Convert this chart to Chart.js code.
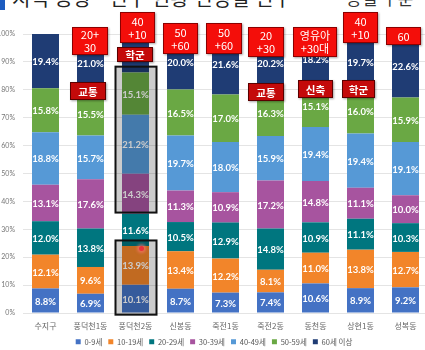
<!DOCTYPE html>
<html lang="ko">
<head>
<meta charset="utf-8">
<script src="https://cdn.jsdelivr.net/npm/chart.js@4/dist/chart.umd.min.js"></script>
<style>
  html, body { margin: 0; padding: 0; background: #fff; overflow: hidden; }
  body { width: 425px; height: 350px; position: relative; font-family: "Noto Sans CJK KR", "Noto Sans", sans-serif; }
  #wrap { position: absolute; left: 0; top: 0; width: 428px; height: 350px; }
  .title { position: absolute; left: 12px; top: -17px; font-size: 20px; color: #222; white-space: nowrap; }
  .title-r { position: absolute; left: 346px; top: -15px; font-size: 17px; color: #333; white-space: nowrap; }
  .mark { position: absolute; left: 0; top: 0; width: 5px; height: 10px; background: #1d5cc0; }
  .tag { position: absolute; background: #f40e0a; color: #fff; border: 1px solid #8c0000;
         box-shadow: 1px 1px 2px rgba(0,0,0,.35); font-size: 11px; line-height: 13px;
         text-align: center; display: flex; align-items: center; justify-content: center; box-sizing: border-box; }
  .tag.dark { background: #c40a0a; border-color: #5a0000; font-weight: bold; font-size: 10.5px; }
  .dot { position: absolute; width: 5px; height: 5px; border-radius: 50%; background: #e8323a; box-shadow: 0 0 3px 2px rgba(255,120,120,.6); }
</style>
</head>
<body>
<div class="mark"></div>
<div class="title">지역 동향 - 인구 현황 연령별 인구</div>
<div class="title-r">동별 구분</div>
<div id="wrap"><canvas id="c"></canvas></div>

<div class="tag" style="left:72px;top:27px;width:36px;height:28px;">20+<br>30</div>
<div class="tag" style="left:120px;top:12px;width:35px;height:31px;">40<br>+10</div>
<div class="tag" style="left:163px;top:23px;width:35px;height:31px;">50<br>+60</div>
<div class="tag" style="left:206px;top:23px;width:36px;height:31px;">50<br>+60</div>
<div class="tag" style="left:248px;top:27px;width:36px;height:30px;">20<br>+30</div>
<div class="tag" style="left:293px;top:27px;width:44px;height:30px;">영유아<br>+30대</div>
<div class="tag" style="left:343px;top:12px;width:35px;height:31px;">40<br>+10</div>
<div class="tag" style="left:386px;top:27px;width:35px;height:18px;">60</div>

<div class="tag dark" style="left:70px;top:82px;width:36px;height:18px;">교통</div>
<div class="tag dark" style="left:117px;top:47px;width:36px;height:15px;">학군</div>
<div class="tag dark" style="left:248px;top:83px;width:36px;height:18px;">교통</div>
<div class="tag dark" style="left:298px;top:80px;width:35px;height:18px;">신축</div>
<div class="tag dark" style="left:342px;top:80px;width:33px;height:18px;">학군</div>
<div class="dot" style="left:139px;top:246px;"></div>

<script>
const categories = ["수지구", "풍덕천1동", "풍덕천2동", "신봉동", "죽전1동", "죽전2동", "동천동", "상현1동", "성복동"];
const ageGroups = ["0-9세", "10-19세", "20-29세", "30-39세", "40-49세", "50-59세", "60세 이상"];

const age0 = [8.8, 6.9, 10.1, 8.7, 7.3, 7.4, 10.6, 8.9, 9.2];
const age10 = [12.1, 9.6, 13.9, 13.4, 12.2, 8.1, 11.0, 13.8, 12.7];
const age20 = [12.0, 13.8, 11.6, 10.5, 12.9, 14.8, 10.9, 11.1, 10.3];
const age30 = [13.1, 17.6, 14.3, 11.3, 10.9, 17.2, 14.8, 11.1, 10.0];
const age40 = [18.8, 15.7, 21.2, 19.7, 18.0, 15.9, 19.4, 19.4, 19.1];
const age50 = [15.8, 15.5, 15.1, 16.5, 17.0, 16.3, 15.1, 16.0, 15.9];
const age60 = [19.4, 21.0, 13.8, 20.0, 21.6, 20.2, 18.2, 19.7, 22.6];

const yTicks = [0, 10, 20, 30, 40, 50, 60, 70, 80, 90, 100];

// 강조 박스 (풍덕천2동): [카테고리, 위 %, 아래 %]
const highlights = [[2, 88.3, 36], [2, 26, -0.6]];

const COLORS = ["#4472c4", "#f2852a", "#00767f", "#a7549f", "#5699d6", "#6aa844", "#1f3c74"];
const series = [age0, age10, age20, age30, age40, age50, age60];

// 막대 안 값 표시
const valueLabels = {
  id: "valueLabels",
  afterDatasetsDraw(chart) {
    const ctx = chart.ctx;
    ctx.save();
    ctx.font = "bold 9.5px Lato, 'DejaVu Sans', sans-serif";
    ctx.fillStyle = "#fff";
    ctx.textAlign = "center";
    ctx.textBaseline = "middle";
    chart.data.datasets.forEach((ds, i) => {
      chart.getDatasetMeta(i).data.forEach((bar, j) => {
        const cy = (bar.y + bar.base) / 2;
        ctx.fillText(ds.data[j].toFixed(1) + "%", bar.x, cy + 1);
      });
    });
    ctx.restore();
  },
};

// 회색 강조 박스
const highlightBoxes = {
  id: "highlightBoxes",
  afterDraw(chart) {
    const { ctx, scales: { x, y } } = chart;
    ctx.save();
    highlights.forEach(([idx, top, bottom]) => {
      const cx = x.getPixelForValue(idx);
      const y1 = y.getPixelForValue(top);
      const y2 = y.getPixelForValue(bottom);
      ctx.fillStyle = "rgba(0,0,0,0.2)";
      ctx.fillRect(cx - 20, y1, 41, y2 - y1);
      ctx.strokeStyle = "#111";
      ctx.lineWidth = 2;
      ctx.strokeRect(cx - 20, y1, 41, y2 - y1);
    });
    ctx.restore();
  },
};

// 범례 높이 고정 (가로 간격은 유지)
const legendHeight = {
  id: "legendHeight",
  afterInit(chart) {
    const lg = chart.legend;
    if (!lg) return;
    const fit = lg.fit;
    lg.fit = function () { fit.call(this); this.height = 18; };
  },
};

Chart.defaults.font.family = "Lato, 'Noto Sans CJK KR', sans-serif";

new Chart(document.getElementById("c"), {
  type: "bar",
  data: {
    labels: categories,
    datasets: ageGroups.map((g, i) => ({
      label: g, data: series[i], backgroundColor: COLORS[i],
      categoryPercentage: 1, barPercentage: 0.6,
    })),
  },
  options: {
    responsive: true, maintainAspectRatio: false, animation: false,
    layout: { padding: { top: 34, left: 0, right: 0, bottom: 0 } },
    plugins: {
      legend: {
        position: "bottom",
        labels: { boxWidth: 5, boxHeight: 5, padding: 6, color: "#555", font: { size: 7.5, family: "'Noto Sans CJK KR', sans-serif" } },
        padding: 0,
      },
      tooltip: { enabled: false },
    },
    scales: {
      x: {
        stacked: true,
        grid: { display: false, drawTicks: false },
        border: { display: false },
        ticks: { color: "#666", font: { size: 8, family: "'Noto Sans CJK KR', sans-serif" }, padding: 8 },
        afterFit: (s) => { s.height = 19; },
      },
      y: {
        stacked: true, min: 0, max: 100,
        afterBuildTicks: (s) => { s.ticks = yTicks.map((v) => ({ value: v })); },
        afterFit: (s) => { s.width = 23; },
        grid: { color: "#e4e4e4", drawTicks: false },
        border: { display: false },
        ticks: { color: "#777", font: { size: 7 }, padding: 8, callback: (v) => v + "%" },
      },
    },
  },
  plugins: [valueLabels, highlightBoxes, legendHeight],
});
</script>
</body>
</html>
